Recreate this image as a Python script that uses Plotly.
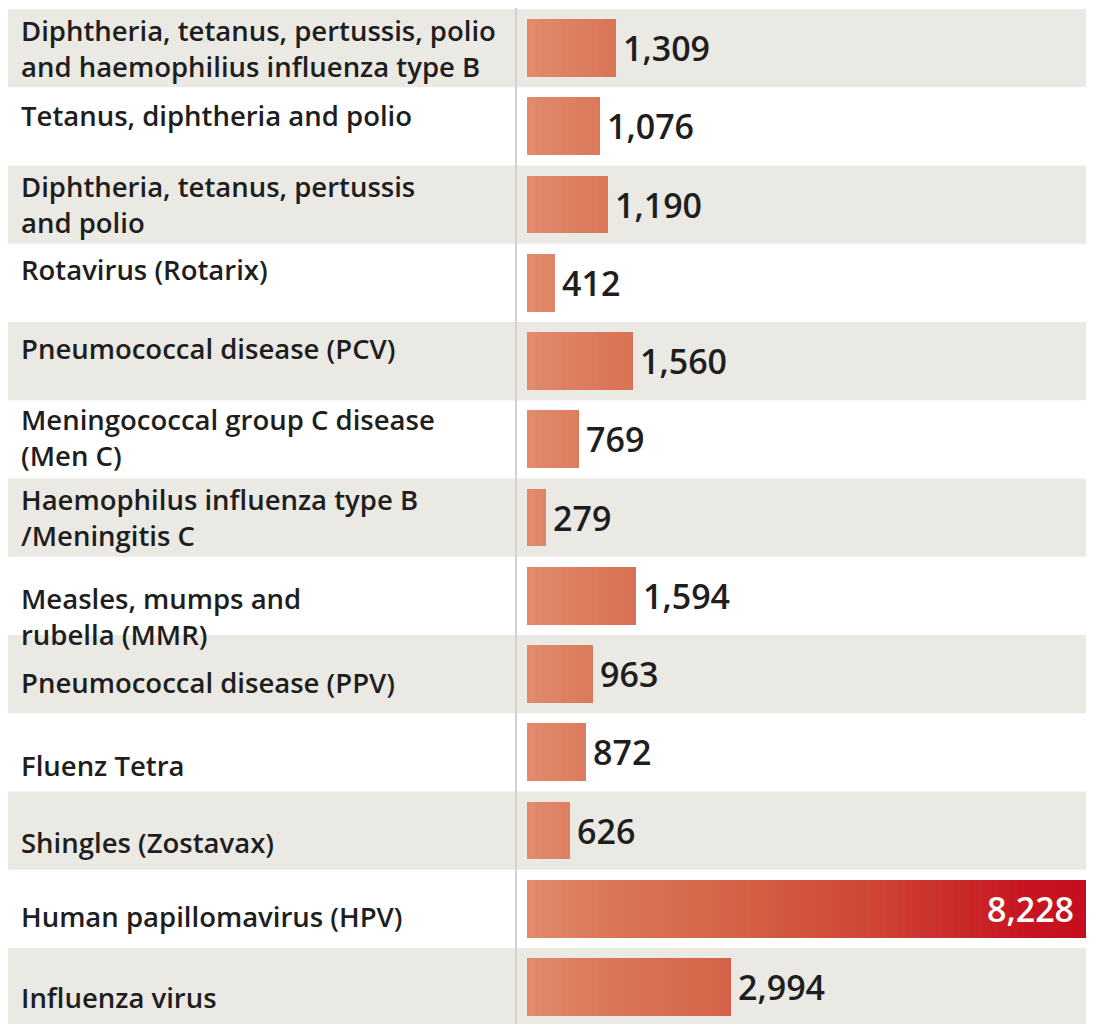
import plotly.graph_objects as go

categories = [
    "Diphtheria, tetanus, pertussis, polio<br>and haemophilius influenza type B",
    "Tetanus, diphtheria and polio",
    "Diphtheria, tetanus, pertussis<br>and polio",
    "Rotavirus (Rotarix)",
    "Pneumococcal disease (PCV)",
    "Meningococcal group C disease<br>(Men C)",
    "Haemophilus influenza type B<br>/Meningitis C",
    "Measles, mumps and<br>rubella (MMR)",
    "Pneumococcal disease (PPV)",
    "Fluenz Tetra",
    "Shingles (Zostavax)",
    "Human papillomavirus (HPV)",
    "Influenza virus",
]
values = [1309, 1076, 1190, 412, 1560, 769, 279, 1594, 963, 872, 626, 8228, 2994]
value_labels = ["1,309", "1,076", "1,190", "412", "1,560", "769", "279",
                "1,594", "963", "872", "626", "8,228", "2,994"]

# layout-only: vertical nudges of the category labels (px, positive = up)
label_shift = [0, 11, 0, 13, 13, 2, 0, -21, -8, -13, -12, -8, -10]

# page body has an 8px margin; reference coordinates are shifted by it
OFF = 8
W, H = 1094 - OFF, 1024 - OFF
n = len(values)
vmax = max(values)

stops = [(0.0, (226, 140, 110)), (0.15, (218, 118, 88)), (0.4, (212, 96, 70)),
         (0.6, (208, 72, 56)), (0.78, (201, 42, 42)), (0.9, (200, 20, 32)),
         (1.0, (198, 14, 30))]


def grad(f):
    for (f0, c0), (f1, c1) in zip(stops[:-1], stops[1:]):
        if f <= f1:
            t = (f - f0) / (f1 - f0) if f1 > f0 else 0
            c = [round(a + (b - a) * t) for a, b in zip(c0, c1)]
            return "rgb(%d,%d,%d)" % tuple(c)
    return "rgb(%d,%d,%d)" % stops[-1][1]


fig = go.Figure()
steps = 80
ys = list(range(n))
for k in range(steps, 0, -1):
    t = vmax * k / steps
    fig.add_trace(go.Bar(
        x=[min(v, t) for v in values], y=ys, orientation="h",
        marker=dict(color=grad(k / steps), line=dict(width=0)),
        width=0.74, hoverinfo="skip", showlegend=False,
    ))

shapes = []
for i in range(n):
    if i % 2 == 0:
        shapes.append(dict(type="rect", xref="paper", yref="y", x0=0, x1=1,
                           y0=i - 0.5, y1=i + 0.5, fillcolor="#ebe9e4",
                           line=dict(width=0), layer="below"))
shapes.append(dict(type="line", xref="paper", yref="paper",
                   x0=(516 - OFF) / W, x1=(516 - OFF) / W,
                   y0=0, y1=1, line=dict(color="#d2d2d2", width=2)))

label_font = dict(family="Open Sans", size=27.5, color="#1e1e1e", weight=600)
annotations = []
for i, (c, v, lab) in enumerate(zip(categories, values, value_labels)):
    annotations.append(dict(
        text=c, xref="paper", x=(19 - OFF) / W, xanchor="left", yref="y", y=i,
        yshift=label_shift[i], showarrow=False, align="left", font=label_font,
    ))
    if v == vmax:
        annotations.append(dict(
            text=lab, xref="x", x=v, xanchor="right", xshift=-12, yref="y", y=i,
            showarrow=False,
            font=dict(family="Open Sans", size=34, color="white", weight=600),
        ))
    else:
        annotations.append(dict(
            text=lab, xref="x", x=v, xanchor="left", xshift=5, yref="y", y=i,
            showarrow=False,
            font=dict(family="Open Sans", size=34, color="#1e1e1e", weight=600),
        ))

row_px = 78.25
r0 = -(48 - OFF) / row_px
r1 = r0 + H / row_px
x_start, x_end = 527, 1088

fig.update_layout(
    width=W, height=H, margin=dict(l=0, r=0, t=0, b=0),
    paper_bgcolor="white", plot_bgcolor="rgba(0,0,0,0)",
    barmode="overlay", bargap=0,
    xaxis=dict(domain=[(x_start - OFF) / W, 1],
               range=[0, vmax * (1094 - x_start) / (x_end - x_start)],
               visible=False, fixedrange=True),
    yaxis=dict(range=[r1, r0], visible=False, fixedrange=True),
    shapes=shapes, annotations=annotations,
)

fig.write_html("out.html")
